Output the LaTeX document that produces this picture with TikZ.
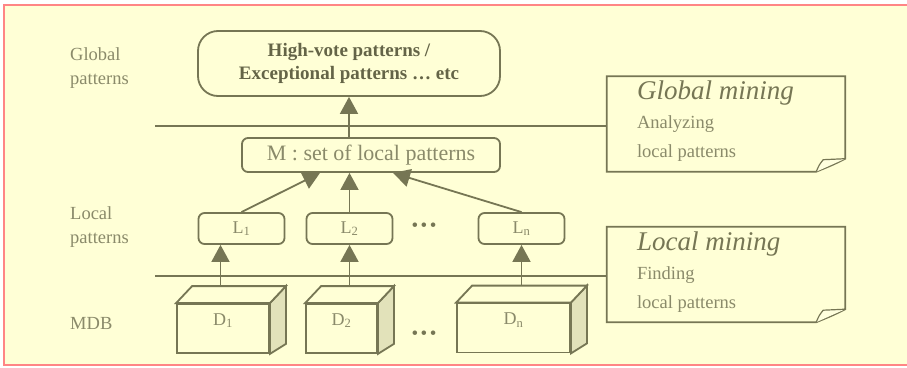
\documentclass[tikz,border=0pt]{standalone}
\usepackage{fontspec}
\setmainfont{Liberation Serif}
\usepackage{tikz}
\usetikzlibrary{arrows.meta}
\definecolor{bgyellow}{HTML}{FFFFD6}
\definecolor{framepink}{HTML}{FF8585}
\definecolor{olive}{HTML}{767654}
\definecolor{textgrey}{HTML}{8A8A6A}
\definecolor{sideface}{HTML}{E2E2BA}
\tikzstyle{layer} = [font=\fontsize{18.5}{23.5}\selectfont, text=textgrey, align=left, anchor=west, inner sep=0pt]
\tikzstyle{result} = [rectangle, rounded corners=20pt, minimum width=302pt, minimum height=65pt, draw=olive, line width=1.8pt, text=olive!85!black, font=\bfseries\fontsize{19}{23}\selectfont, align=center]
\tikzstyle{setbox} = [rectangle, rounded corners=6pt, minimum width=258pt, minimum height=34pt, draw=olive, line width=1.8pt, text=textgrey, font=\fontsize{22}{26}\selectfont]
\tikzstyle{localbox} = [rectangle, rounded corners=6pt, minimum width=86pt, minimum height=31pt, draw=olive, line width=1.8pt, text=textgrey, font=\fontsize{18}{22}\selectfont]
\tikzstyle{dbface} = [rectangle, minimum height=49pt, draw=olive, line width=1.8pt, fill=bgyellow, text=textgrey, font=\fontsize{18}{22}\selectfont]
\tikzstyle{arrow} = [line width=1.8pt, draw=olive, fill=olive, -{Triangle[width=18pt,length=17pt]}]
\tikzset{
  note/.style={minimum width=238pt, minimum height=95pt, inner sep=0pt},
  notetext/.style={anchor=west, align=left, text=textgrey, inner sep=0pt, font=\fontsize{18.5}{29}\selectfont},
  sepline/.style={line width=1.8pt, draw=olive},
  dots/.style={text=olive, font=\fontsize{19}{19}\selectfont, inner sep=0pt},
}
\newcommand{\notehead}[1]{{\fontsize{27}{30}\selectfont\itshape\color{olive}#1}}
\newcommand{\threedots}{\textbullet\hspace{2.5pt}\textbullet\hspace{2.5pt}\textbullet}
\newcommand{\uplabel}[1]{\raisebox{8pt}[\height][\depth]{#1}}
% sheet with a folded corner round an empty node
\newcommand{\foldnote}[1]{%
  \draw[sepline, fill=bgyellow] (#1.north west) -- (#1.north east) -- ([yshift=13pt]#1.south east)
    .. controls ([xshift=-12pt,yshift=7pt]#1.south east) .. ([xshift=-29pt]#1.south east) -- (#1.south west) -- cycle;
  \draw[sepline, line width=1.2pt, fill=bgyellow!80!white] ([xshift=-29pt]#1.south east)
    .. controls ([xshift=-26pt,yshift=7pt]#1.south east) .. ([xshift=-22pt,yshift=12pt]#1.south east)
    -- ([yshift=13pt]#1.south east);
}
% top and side of a database block
\newcommand{\dbbox}[1]{%
  \draw[sepline, fill=sideface] (#1.north east) -- ([xshift=16pt,yshift=17pt]#1.north east)
    -- ([xshift=16pt,yshift=10pt]#1.south east) -- (#1.south east) -- cycle;
  \draw[sepline, fill=bgyellow] (#1.north west) -- ([xshift=16pt,yshift=17pt]#1.north west)
    -- ([xshift=16pt,yshift=17pt]#1.north east) -- (#1.north east) -- cycle;
  \coordinate (#1-top) at ([xshift=8pt,yshift=17pt]#1.north);
}

\begin{document}
\begin{tikzpicture}[x=1pt, y=-1pt]
\useasboundingbox (0,0) rectangle (907,367);
\fill[bgyellow] (4,5) rectangle (907,365);
\draw[framepink, line width=2.5pt] (910,5) -- (4,5) -- (4,365) -- (910,365);

% layer names
\node (glabel) [layer] at (70,68) {Global\\patterns};
\node (llabel) [layer] at (70,227) {Local\\patterns};
\node (mlabel) [layer] at (70,323) {MDB};

% global level
\node (hv) [result] at (349,63.5) {High-vote patterns /\\Exceptional patterns \ldots\ etc};
\node (m) [setbox] at (371,155) {M : set of local patterns};

% local level
\node (l1) [localbox] at (241.5,228.5) {L\textsubscript{1}};
\node (l2) [localbox] at (349.5,228.5) {L\textsubscript{2}};
\node (ldots) [dots] at (424,227) {\threedots};
\node (ln) [localbox] at (521.5,228.5) {L\textsubscript{n}};

% databases
\node (d1) [dbface, minimum width=92pt] at (223,328.5) {\uplabel{D\textsubscript{1}}};
\node (d2) [dbface, minimum width=71pt] at (341.5,328.5) {\uplabel{D\textsubscript{2}}};
\node (ddots) [dots] at (424,335) {\threedots};
\node (dn) [dbface, minimum width=113pt] at (513.5,328) {\uplabel{D\textsubscript{n}}};
\dbbox{d1}
\dbbox{d2}
\dbbox{dn}

% mining notes
\node (gnote) [note] at (726,124) {};
\node (lnote) [note] at (726,274.5) {};
\foldnote{gnote}
\foldnote{lnote}
\node (gtext) [notetext] at ([xshift=30pt,yshift=2.5pt]gnote.west) {\notehead{Global mining}\\Analyzing\\local patterns};
\node (ltext) [notetext] at ([xshift=30pt,yshift=2.5pt]lnote.west) {\notehead{Local mining}\\Finding\\local patterns};

% level separators
\coordinate (gsep) at (155,126);
\coordinate (lsep) at (155,276);
\draw [sepline] (gsep) -- (gsep -| gnote.west);
\draw [sepline] (lsep) -- (lsep -| lnote.west);

\draw [arrow] (hv.south |- m.north) -- (hv.south);
\draw [arrow] (l1.north) -- ([xshift=-51pt]m.south);
\draw [arrow] (l2.north) -- (l2.north |- m.south);
\draw [arrow] (ln.north) -- ([xshift=22pt]m.south);
\draw [arrow] ([xshift=-21pt]l1.south |- d1-top) -- ([xshift=-21pt]l1.south);
\draw [arrow] (l2.south |- d2-top) -- (l2.south);
\draw [arrow] (ln.south |- dn-top) -- (ln.south);

\end{tikzpicture}
\end{document}
